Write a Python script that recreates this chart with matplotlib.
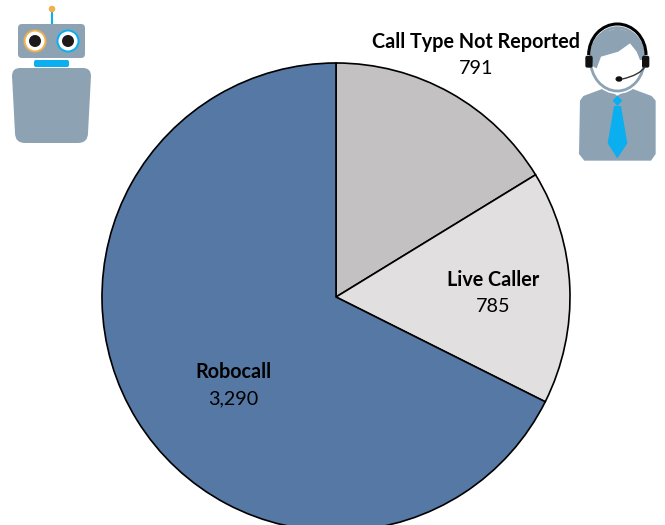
import matplotlib
matplotlib.use("Agg")
import matplotlib.pyplot as plt
from matplotlib.patches import Circle, Ellipse, FancyBboxPatch, Polygon, Arc, PathPatch
from matplotlib.path import Path

categories = ["Call Type Not Reported", "Live Caller", "Robocall"]
values = [791, 785, 3290]
colors = ["#C3C1C1", "#E1DFE0", "#5578A5"]
label_pos = [(476, 55), (493, 293), (233.5, 385)]

GREY = "#8DA3B4"
BLUE = "#0BAEEF"
ORANGE = "#EFB050"
FONT = "Lato"

fig = plt.figure(figsize=(6.65, 5.25), dpi=100)
ax = fig.add_axes([0, 0, 1, 1])
ax.pie(values, colors=colors, startangle=-90, counterclock=True,
       center=(336, 297), radius=234, frame=True,
       wedgeprops=dict(edgecolor="black", linewidth=1.2))
ax.set_xlim(0, 665)
ax.set_ylim(525, 0)
ax.set_aspect("equal")
ax.axis("off")

for name, val, (x, y) in zip(categories, values, label_pos):
    ax.text(x, y - 13.5, name, ha="center", va="center", fontsize=14.2,
            fontweight="bold", family=FONT, color="black")
    ax.text(x, y + 13.5, f"{val:,}", ha="center", va="center", fontsize=14.2,
            family=FONT, color="black")

# Robot icon
ax.plot([52, 52], [11, 24], color=BLUE, lw=1.5, zorder=3)
ax.add_patch(Circle((52, 9), 2.6, color=ORANGE, zorder=4))
ax.add_patch(FancyBboxPatch((22, 28), 59, 26, boxstyle="round,pad=4", fc=GREY, ec="none", zorder=3))
for ex, ring in [(35, ORANGE), (68, BLUE)]:
    ax.add_patch(Circle((ex, 41), 11.5, fc=ring, ec="none", zorder=4))
    ax.add_patch(Circle((ex, 41), 9.5, fc="white", ec="none", zorder=5))
    ax.add_patch(Circle((ex, 41), 6, fc="#1E1A1A", ec="none", zorder=6))
ax.add_patch(FancyBboxPatch((36, 62), 31, 3, boxstyle="round,pad=2", fc=BLUE, ec="none", zorder=3))
ax.add_patch(PathPatch(Path(
    [(12, 76), (12, 68), (20, 68), (83, 68), (91, 68), (91, 76), (88, 133), (88, 143), (78, 143),
     (25, 143), (15, 143), (15, 133), (12, 76)],
    [Path.MOVETO, Path.CURVE3, Path.CURVE3, Path.LINETO, Path.CURVE3, Path.CURVE3, Path.LINETO,
     Path.CURVE3, Path.CURVE3, Path.LINETO, Path.CURVE3, Path.CURVE3, Path.LINETO]),
    fc=GREY, ec="none", zorder=3))

# Agent icon
def P(u, v):
    return (565 + u / 3, 10 + v / 3)

body = [(45, 272), (55, 258), (125, 232), (157, 258), (190, 232), (260, 258), (272, 272),
        (272, 432), (258, 452), (58, 452), (42, 432)]
ax.add_patch(Polygon([P(*q) for q in body], fc=GREY, ec="none", zorder=3))
ax.add_patch(Polygon([P(*q) for q in [(157, 256), (172, 272), (157, 288), (143, 272)]], fc=BLUE, ec="none", zorder=4))
ax.add_patch(Polygon([P(*q) for q in [(147, 288), (168, 288), (187, 400), (157, 445), (128, 400)]], fc=BLUE, ec="none", zorder=4))
# face with white halo
ax.add_patch(Ellipse(P(157, 148), 180 / 3, 208 / 3, fc="white", ec="none", zorder=3.5))
ax.add_patch(Ellipse(P(157, 148), 162 / 3, 190 / 3, fc="white", ec=GREY, lw=2, zorder=4))
# hair
hair = [(80, 150), (82, 105), (110, 68), (157, 55), (205, 68), (232, 105), (235, 150), (225, 150),
        (215, 125), (195, 100), (160, 125), (108, 140), (95, 175), (85, 170)]
ax.add_patch(Polygon([P(*q) for q in hair], fc=GREY, ec="none", zorder=5))
# headset
ax.add_patch(Arc(P(157, 135), 172 / 3, 186 / 3, theta1=180, theta2=360, color="black", lw=2.2, zorder=6))
for u in (72, 242):
    ax.add_patch(FancyBboxPatch(P(u - 5, 143), 10 / 3, 24 / 3, boxstyle="round,pad=2", fc="#111111", ec="none", zorder=6))
mic = [P(240, 170), P(225, 195), P(172, 207)]
ax.add_patch(PathPatch(Path(mic, [Path.MOVETO, Path.CURVE3, Path.CURVE3]), fc="none", ec="#333333", lw=1, zorder=6))
ax.add_patch(Ellipse(P(162, 207), 7, 5.5, fc="#111111", ec="none", zorder=6))

fig.savefig("out.png", dpi=100)
